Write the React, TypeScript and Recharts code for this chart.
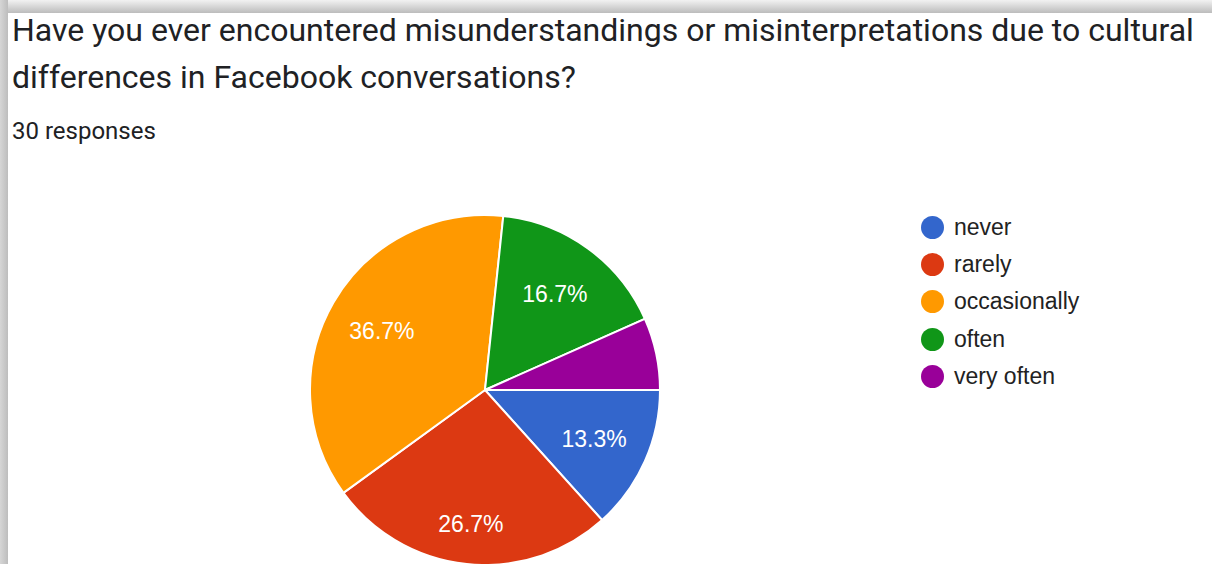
import React from "react";
import { PieChart, Pie, Cell, Legend } from "recharts";

const categories = ["never", "rarely", "occasionally", "often", "very often"];
const counts = [4, 8, 11, 5, 2];
const colors = ["#3366cc", "#dc3912", "#ff9900", "#109618", "#990099"];
const titleLines = [
  "Have you ever encountered misunderstandings or misinterpretations due to cultural",
  "differences in Facebook conversations?",
];
const subtitle = "30 responses";

const data = categories.map((name, i) => ({ name, value: counts[i] }));
const RAD = Math.PI / 180;

const renderLabel = (p: any) => {
  const { cx, cy, midAngle, outerRadius, percent } = p;
  if (percent < 0.1) return null;
  const s = Math.sin(-midAngle * RAD);
  const factor = 0.68 + 0.09 * Math.pow(Math.max(0, s), 4);
  const r = outerRadius * factor;
  const x = cx + r * Math.cos(-midAngle * RAD);
  const y = cy + r * s;
  return (
    <text
      x={x}
      y={y}
      fill="#ffffff"
      textAnchor="middle"
      dominantBaseline="central"
      fontFamily="'Liberation Sans', Arial, sans-serif"
      fontSize={23}
    >
      {(percent * 100).toFixed(1) + "%"}
    </text>
  );
};

const renderLegend = (props: any) => {
  const payload = [...(props.payload || [])].sort(
    (a: any, b: any) => categories.indexOf(a.value) - categories.indexOf(b.value)
  );
  return (
    <div>
      {payload.map((entry: any, i: number) => (
        <div
          key={i}
          style={{ display: "flex", alignItems: "center", height: 37.3 }}
        >
          <span
            style={{
              display: "inline-block",
              width: 23,
              height: 23,
              borderRadius: "50%",
              background: entry.color,
              marginRight: 10,
            }}
          />
          <span
            style={{
              fontFamily: "'Liberation Sans', Arial, sans-serif",
              fontSize: 23,
              color: "#222222",
            }}
          >
            {entry.value}
          </span>
        </div>
      ))}
    </div>
  );
};

export default function App() {
  return (
    <div
      style={{
        position: "absolute",
        left: 0,
        top: 0,
        width: 1212,
        height: 564,
        overflow: "hidden",
        background: "#ffffff",
      }}
    >
      <div
        style={{
          position: "absolute",
          left: 0,
          top: 0,
          width: 1212,
          height: 13,
          background: "linear-gradient(to bottom, #f2f2f2, #bcbcbc)",
        }}
      />
      <div
        style={{
          position: "absolute",
          left: 0,
          top: 0,
          width: 8,
          height: 564,
          background: "linear-gradient(to right, #d6d6d6, #bdbdbd)",
        }}
      />
      <div style={{ position: "absolute", left: 0, top: 0 }}>
        <PieChart
          width={1212}
          height={800}
          margin={{ top: 0, right: 0, bottom: 0, left: 0 }}
        >
          <Pie
            data={data}
            dataKey="value"
            nameKey="name"
            cx={485}
            cy={390}
            outerRadius={175}
            startAngle={0}
            endAngle={-360}
            stroke="#ffffff"
            strokeWidth={2}
            label={renderLabel}
            labelLine={false}
            isAnimationActive={false}
          >
            {data.map((d, i) => (
              <Cell key={d.name} fill={colors[i]} />
            ))}
          </Pie>
          <Legend
            layout="vertical"
            content={renderLegend}
            wrapperStyle={{ position: "absolute", left: 921, top: 208.5, width: 250 }}
          />
        </PieChart>
      </div>
      <div
        style={{
          position: "absolute",
          left: 12,
          top: 7,
          fontFamily: "Roboto, sans-serif",
          fontSize: 32,
          lineHeight: "47px",
          color: "#202124",
          whiteSpace: "nowrap",
        }}
      >
        {titleLines.map((l, i) => (
          <div key={i}>{l}</div>
        ))}
      </div>
      <div
        style={{
          position: "absolute",
          left: 12,
          top: 117,
          fontFamily: "Roboto, sans-serif",
          fontSize: 24,
          lineHeight: "28px",
          color: "#202124",
        }}
      >
        {subtitle}
      </div>
    </div>
  );
}
